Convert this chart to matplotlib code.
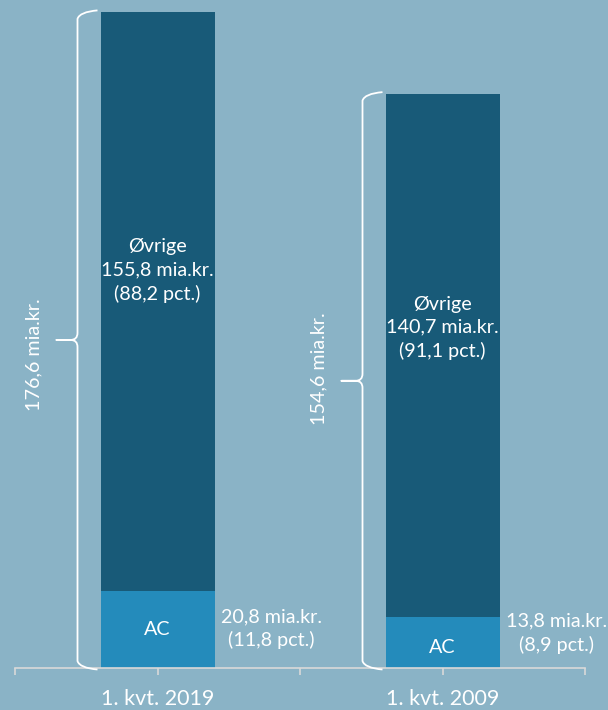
import numpy as np
import matplotlib
matplotlib.use("Agg")
import matplotlib.pyplot as plt
from matplotlib.path import Path
from matplotlib.patches import PathPatch

plt.rcParams['font.family'] = ['Lato', 'DejaVu Sans']

periods = ['1. kvt. 2019', '1. kvt. 2009']
ac = [20.8, 13.8]
ovrige = [155.8, 140.7]
ac_pct = ['11,8', '8,9']
ovrige_pct = ['88,2', '91,1']
totals = [176.6, 154.6]

bg = '#8AB3C6'
dark = '#185A78'
light = '#248BBB'
axis_col = '#D9D9D9'

fig = plt.figure(figsize=(6.08, 7.10), dpi=100, facecolor=bg)
ax = fig.add_axes([15 / 608, 42 / 710, 570 / 608, 668 / 710])
ax.set_facecolor(bg)

pos = np.array([1, 3])
w = 0.8
ax.bar(pos, ac, width=w, color=light, zorder=2)
ax.bar(pos, ovrige, width=w, bottom=ac, color=dark, zorder=2)

ax.set_xlim(0, 4)
ax.set_ylim(0, 179.8)

# pixel -> data helpers (x: 142.5 px per unit, y: 3.715 px per unit)
px_x = 1 / 142.5
px_y = 179.8 / 668

def fmt(v):
    return f'{v:.1f}'.replace('.', ',')

fs = 14.2
inner_y = 0.553      # where the Øvrige label sits inside its segment
side_y = [10.6, 9.4]
ac_shift = [0, -1.5]
total_shift = [-4.0, 3.3]

for i, p in enumerate(pos):
    ax.text(p, ac[i] + ovrige[i] * inner_y,
            f'Øvrige\n{fmt(ovrige[i])} mia.kr.\n({ovrige_pct[i]} pct.)',
            ha='center', va='center', color='white', fontsize=fs, linespacing=1.42)
    ax.text(p, ac[i] / 2 + ac_shift[i], 'AC', ha='center', va='center',
            color='white', fontsize=fs)
    ax.text(p + 0.8, side_y[i],
            f'{fmt(ac[i])} mia.kr.\n({ac_pct[i]} pct.)',
            ha='center', va='center', color='white', fontsize=fs, linespacing=1.42)

    # curly brace on the left of the bar
    top = totals[i]
    mid = top / 2
    xl = p - w / 2 - 23 * px_x
    xe = xl + 20 * px_x
    rx, ry = 7 * px_x, 7 * px_y
    xt = xl - 21 * px_x
    verts = [
        (xe, top + 1.5 * px_y), (xl + rx * 0.3, top), (xl, top - ry),
        (xl, mid + ry),
        (xl, mid), (xl - rx, mid),
        (xt, mid),
        (xl - rx, mid),
        (xl, mid), (xl, mid - ry),
        (xl, ry),
        (xl + rx * 0.3, 0), (xe, -1.5 * px_y),
    ]
    codes = [Path.MOVETO, Path.CURVE3, Path.CURVE3,
             Path.LINETO,
             Path.CURVE3, Path.CURVE3,
             Path.LINETO,
             Path.LINETO,
             Path.CURVE3, Path.CURVE3,
             Path.LINETO,
             Path.CURVE3, Path.CURVE3]
    ax.add_patch(PathPatch(Path(verts, codes), facecolor='none', edgecolor='white',
                           lw=1.3, zorder=3, clip_on=False, joinstyle='round'))
    ax.text(xt - 23 * px_x, mid + total_shift[i], f'{fmt(top)} mia.kr.', rotation=90,
            ha='center', va='center', color='white', fontsize=fs)

for s in ['top', 'right', 'left']:
    ax.spines[s].set_visible(False)
ax.spines['bottom'].set_color(axis_col)
ax.spines['bottom'].set_linewidth(1.2)
ax.set_yticks([])
ax.set_xticks([0, 1, 2, 3, 4])
ax.set_xticklabels(['', periods[0], '', periods[1], ''])
ax.tick_params(axis='x', direction='out', length=5, width=1.2, color=axis_col,
               labelcolor='white', labelsize=15.5, pad=10)

fig.savefig('out.png', dpi=100, facecolor=bg)
